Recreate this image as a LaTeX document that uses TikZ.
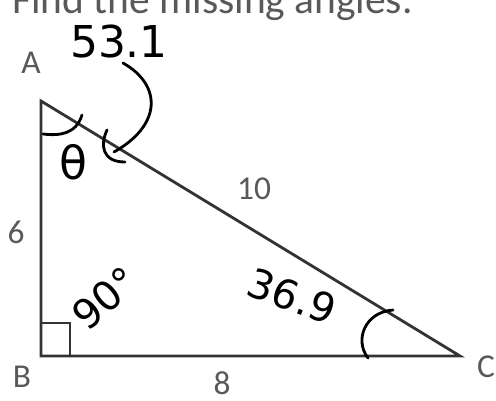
\documentclass[tikz,border=0pt]{standalone}
\usepackage{fontspec}
\setmainfont{Carlito}
\newfontfamily\handfont{DejaVu Sans}

\begin{document}
\begin{tikzpicture}[
  x=0.02cm, y=-0.02cm,
  side/.style={draw=black!80, line width=1.6pt, line join=miter},
  vlabel/.style={text=black!65, inner sep=0pt, font=\fontsize{19}{20}\selectfont},
  ink/.style={draw=black, line width=1.6pt, line cap=round, line join=round},
  handtext/.style={text=black, inner sep=0pt, font=\handfont\fontsize{#1}{#1}\selectfont}
]
\useasboundingbox (0,0) rectangle (496,400);

\node[anchor=base west, text=black!65, inner sep=0pt, font=\fontsize{23.6}{26}\selectfont] (title) at (12,13) {Find the missing angles.};

% triangle
\coordinate (A) at (41,101);
\coordinate (B) at (41,356);
\coordinate (C) at (460,356);
\draw[side] (A) -- (B) -- (C) -- cycle;
\draw[side, line width=1.3pt] (B) ++(0,-33) -| ++(29,33);

% vertex and side labels
\node[vlabel] (labA) at (31,63) {A};
\node[vlabel] (labB) at (22,377) {B};
\node[vlabel] (labC) at (486,367) {C};
\node[vlabel] (labAB) at (16,232) {6};
\node[vlabel] (labAC) at (254,189) {10};
\node[vlabel] (labBC) at (222,383) {8};

% handwritten answers
\node[handtext=25] (angA) at (119,42) {53.1};
\node[handtext=26] (theta) at (73,162) {θ};
\node[handtext=23, rotate=40] (angB) at (105,298) {90°};
\node[handtext=23, rotate=-20] (angC) at (292,296) {36.9};

\draw[ink] (43,134) .. controls (60,136) and (76,134) .. (82,115);
\draw[ink] (123,63) .. controls (162,85) and (162,125) .. (114,152);
\draw[ink] (107,130) .. controls (100,145) and (102,162) .. (125,162);
\draw[ink] (393,310) .. controls (365,312) and (354,340) .. (368,358);

\end{tikzpicture}
\end{document}
